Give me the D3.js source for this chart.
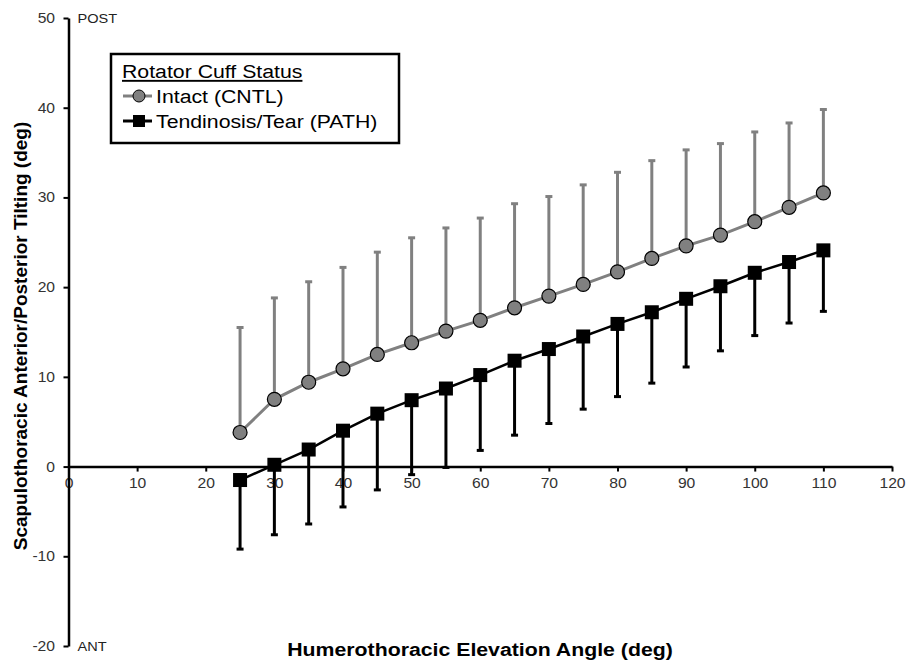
<!DOCTYPE html>
<html>
<head>
	<meta charset="utf-8">
	<script src="https://d3js.org/d3.v7.min.js"></script>
	<title>Scapulothoracic tilting</title>
	<style>
		body { margin: 0; background: #fff; }
		svg text { font-family: "Liberation Sans", Arial, sans-serif; }
	</style>
</head>
<body>
	<div id="chart"></div>

	<script type="text/javascript">

		// humerothoracic elevation angles (deg)
		var angles = [25, 30, 35, 40, 45, 50, 55, 60, 65, 70, 75, 80, 85, 90, 95, 100, 105, 110];

		// Intact (CNTL) mean and upper error bar end
		var cntlMean = [3.8, 7.5, 9.4, 10.9, 12.5, 13.8, 15.1, 16.3, 17.7, 19.0, 20.3, 21.7, 23.2, 24.6, 25.8, 27.3, 28.9, 30.5];
		var cntlUpper = [15.5, 18.8, 20.6, 22.2, 23.9, 25.5, 26.6, 27.7, 29.3, 30.1, 31.4, 32.8, 34.1, 35.3, 36.0, 37.3, 38.3, 39.8];

		// Tendinosis/Tear (PATH) mean and lower error bar end
		var pathMean = [-1.5, 0.2, 1.9, 4.0, 5.9, 7.4, 8.7, 10.2, 11.8, 13.1, 14.5, 15.9, 17.2, 18.7, 20.1, 21.6, 22.8, 24.1];
		var pathLower = [-9.2, -7.6, -6.4, -4.5, -2.6, -0.9, -0.1, 1.8, 3.5, 4.8, 6.4, 7.8, 9.3, 11.1, 12.9, 14.6, 16.0, 17.3];

		var xTicks = [0, 10, 20, 30, 40, 50, 60, 70, 80, 90, 100, 110, 120];
		var yTicks = [-20, -10, 0, 10, 20, 30, 40, 50];

		var legendTitle = "Rotator Cuff Status";
		var seriesNames = ["Intact (CNTL)", "Tendinosis/Tear (PATH)"];

		var width = 906;
		var height = 663;
		var grey = "#808080";
		var stretch = "scale(1.12,1)"; // the original figure is a bit wide

		var svg = d3.select("#chart").append("svg")
			.attr("width", width)
			.attr("height", height);

		var xScale = d3.scaleLinear().domain([0, 120]).range([68.5, 892]);
		var yScale = d3.scaleLinear().domain([-20, 50]).range([646, 18]);

		// plain hyphen for negatives, like the original
		var fmt = function(d){ return String(d); };

		// x axis sits on y = 0
		var xAxis = svg.append("g")
			.attr("transform", "translate(0," + yScale(0) + ")")
			.call(d3.axisBottom(xScale).tickValues(xTicks).tickFormat(fmt).tickSize(5).tickSizeOuter(0).tickPadding(7));

		var yAxis = svg.append("g")
			.attr("transform", "translate(" + xScale(0) + ",0)")
			.call(d3.axisLeft(yScale).tickValues(yTicks).tickFormat(fmt).tickSize(5).tickSizeOuter(0).tickPadding(7));

		[xAxis, yAxis].forEach(function(ax){
			ax.select(".domain").attr("stroke", "#000").attr("stroke-width", 2.5);
			ax.selectAll(".tick line").attr("stroke", "#000").attr("stroke-width", 2);
			ax.selectAll(".tick text")
				.attr("fill", "#333")
				.attr("transform", stretch)
				.style("font-size", "14px")
				.style("font-family", "Liberation Sans, Arial, sans-serif");
		});

		// horizontal text, widened to match the figure
		function wideText(x, y, size){
			return svg.append("g")
				.attr("transform", "translate(" + x + "," + y + ") " + stretch)
				.append("text")
				.style("font-size", size);
		}

		wideText(xScale(0) + 9, yScale(50) + 5, "13px").attr("fill", "#222").text("POST");
		wideText(xScale(0) + 9, yScale(-20) + 5, "13px").attr("fill", "#222").text("ANT");

		// axis titles
		wideText(480, 656, "19px")
			.attr("text-anchor", "middle")
			.style("font-weight", "bold")
			.text("Humerothoracic Elevation Angle (deg)");

		svg.append("text")
			.attr("transform", "translate(27,336) rotate(-90)")
			.attr("text-anchor", "middle")
			.style("font-size", "19px")
			.style("font-weight", "bold")
			.text("Scapulothoracic Anterior/Posterior Tilting (deg)");

		var cntl = angles.map(function(a, i){ return {x: a, m: cntlMean[i], e: cntlUpper[i]}; });
		var path = angles.map(function(a, i){ return {x: a, m: pathMean[i], e: pathLower[i]}; });

		// error bars
		function errorBars(data, color, cls){
			var g = svg.append("g").attr("class", cls);
			g.selectAll("line.bar").data(data).enter().append("line")
				.attr("class", "bar")
				.attr("x1", function(d){ return xScale(d.x); })
				.attr("x2", function(d){ return xScale(d.x); })
				.attr("y1", function(d){ return yScale(d.m); })
				.attr("y2", function(d){ return yScale(d.e); })
				.attr("stroke", color)
				.attr("stroke-width", 3);
			g.selectAll("line.cap").data(data).enter().append("line")
				.attr("class", "cap")
				.attr("x1", function(d){ return xScale(d.x) - 3.5; })
				.attr("x2", function(d){ return xScale(d.x) + 3.5; })
				.attr("y1", function(d){ return yScale(d.e); })
				.attr("y2", function(d){ return yScale(d.e); })
				.attr("stroke", color)
				.attr("stroke-width", 3);
		}
		errorBars(cntl, grey, "cntl-err");
		errorBars(path, "#000", "path-err");

		var line = d3.line()
			.x(function(d){ return xScale(d.x); })
			.y(function(d){ return yScale(d.m); });

		svg.append("path").datum(cntl)
			.attr("d", line)
			.attr("fill", "none")
			.attr("stroke", grey)
			.attr("stroke-width", 3);

		svg.append("path").datum(path)
			.attr("d", line)
			.attr("fill", "none")
			.attr("stroke", "#000")
			.attr("stroke-width", 2.5);

		svg.selectAll("circle.cntl").data(cntl).enter().append("circle")
			.attr("class", "cntl")
			.attr("cx", function(d){ return xScale(d.x); })
			.attr("cy", function(d){ return yScale(d.m); })
			.attr("r", 7)
			.attr("fill", grey)
			.attr("stroke", "#000")
			.attr("stroke-width", 1.2);

		svg.selectAll("rect.path").data(path).enter().append("rect")
			.attr("class", "path")
			.attr("x", function(d){ return xScale(d.x) - 7; })
			.attr("y", function(d){ return yScale(d.m) - 7; })
			.attr("width", 14)
			.attr("height", 14)
			.attr("fill", "#000");

		// legend
		svg.append("rect")
			.attr("x", 111)
			.attr("y", 54)
			.attr("width", 288)
			.attr("height", 89)
			.attr("fill", "#fff")
			.attr("stroke", "#000")
			.attr("stroke-width", 2.5);

		wideText(122, 78, "19px")
			.style("text-decoration", "underline")
			.text(legendTitle);

		svg.append("line")
			.attr("x1", 123).attr("x2", 152).attr("y1", 96).attr("y2", 96)
			.attr("stroke", grey).attr("stroke-width", 3);
		svg.append("circle")
			.attr("cx", 139).attr("cy", 96).attr("r", 6)
			.attr("fill", grey).attr("stroke", "#000").attr("stroke-width", 1);
		svg.append("line")
			.attr("x1", 123).attr("x2", 152).attr("y1", 121).attr("y2", 121)
			.attr("stroke", "#000").attr("stroke-width", 3);
		svg.append("rect")
			.attr("x", 133).attr("y", 115).attr("width", 12).attr("height", 12)
			.attr("fill", "#000");

		seriesNames.forEach(function(name, i){
			wideText(156, 103 + i * 25, "19px").text(name);
		});

	</script>
</body>
</html>
